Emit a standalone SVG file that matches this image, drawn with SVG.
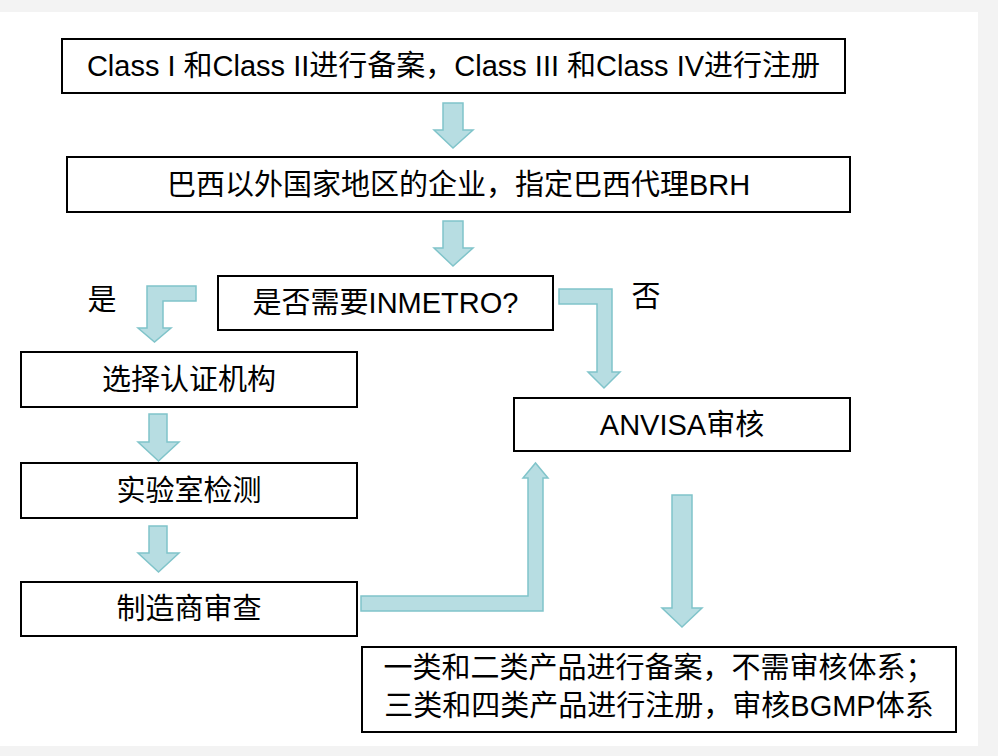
<svg xmlns="http://www.w3.org/2000/svg" width="998" height="756" viewBox="0 0 998 756">
<style>
.box{fill:#fff;stroke:#000;stroke-width:2}
.t{font-family:"Liberation Sans","Noto Sans CJK SC",sans-serif;font-size:29px;fill:#000;text-anchor:middle;dominant-baseline:central}
.arr{fill:#b7dde2;stroke:#80c4ca;stroke-width:1.5;stroke-linejoin:miter}
</style>
<rect x="0" y="0" width="998" height="756" fill="#f3f3f3"/>
<rect x="0" y="12" width="978" height="734" fill="#ffffff"/>
<g id="n1"><rect class="box" x="62" y="39" width="783" height="54"/><text class="t" x="453.5" y="66">Class I 和Class II进行备案，Class III 和Class IV进行注册</text></g>
<g id="n2"><rect class="box" x="67" y="157" width="783" height="55"/><text class="t" x="458.5" y="185">巴西以外国家地区的企业，指定巴西代理BRH</text></g>
<g id="n3"><rect class="box" x="218" y="276" width="335" height="54"/><text class="t" x="385.5" y="303">是否需要INMETRO?</text></g>
<g id="n4"><rect class="box" x="21" y="352" width="336" height="55"/><text class="t" x="189" y="380">选择认证机构</text></g>
<g id="n5"><rect class="box" x="21" y="463" width="336" height="55"/><text class="t" x="189" y="491">实验室检测</text></g>
<g id="n6"><rect class="box" x="21" y="582" width="336" height="54"/><text class="t" x="189" y="609">制造商审查</text></g>
<g id="n7"><rect class="box" x="514" y="398" width="336" height="53"/><text class="t" x="682" y="425">ANVISA审核</text></g>
<g id="n8"><rect class="box" x="362" y="647" width="594" height="85"/><text class="t" x="659" y="668">一类和二类产品进行备案，不需审核体系；</text><text class="t" x="659" y="706">三类和四类产品进行注册，审核BGMP体系</text></g>
<g id="labels"><text class="t" x="102" y="300">是</text><text class="t" x="646" y="297">否</text></g>
<g id="connectors">
<polygon class="arr" points="443,103 463,103 463,130 473,130 453,148 434,130 443,130"/>
<polygon class="arr" points="443,221 463,221 463,248 473,248 453,266 434,248 443,248"/>
<polygon class="arr" points="196,286 147,286 147,328 138,328 154.5,342 171,328 163,328 163,301 196,301"/>
<polygon class="arr" points="559,289 612,289 612,372 620,372 604,388 588,372 597,372 597,304 559,304"/>
<polygon class="arr" points="361,596 528,596 528,478 523,478 535.5,463 548,478 543,478 543,611 361,611"/>
<polygon class="arr" points="672,495 692,495 692,608 702,608 682,627 662,608 672,608"/>
<polygon class="arr" points="149,414 167,414 167,442 179,442 158.5,461 138,442 149,442"/>
<polygon class="arr" points="149,526 167,526 167,553 179,553 158.5,572 138,553 149,553"/>
</g>
</svg>
